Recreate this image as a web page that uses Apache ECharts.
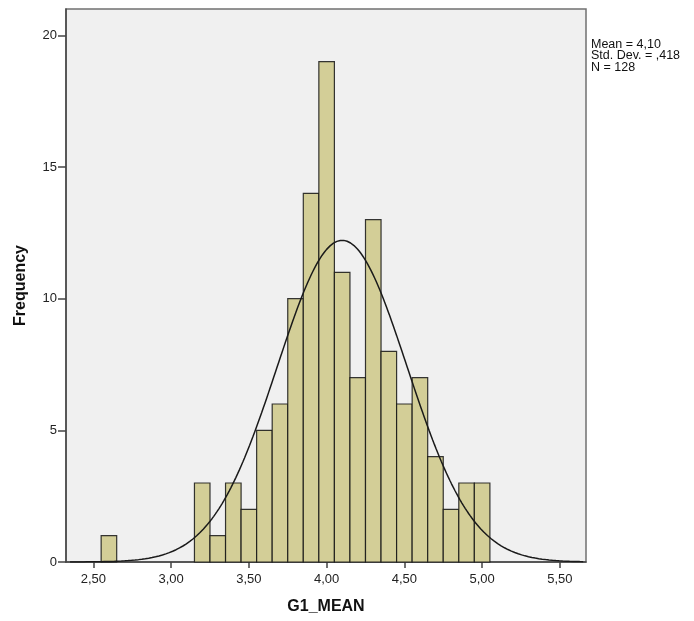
<!DOCTYPE html>
<html>
<head>
<meta charset="utf-8">
<script src="https://cdn.jsdelivr.net/npm/echarts@6/dist/echarts.min.js"></script>
<style>
html,body{margin:0;padding:0;background:#fff;}
#c{width:694px;height:621px;}
</style>
</head>
<body>
<div id="c"></div>
<script>
// Bin centers (bin width 0.1) and frequencies
const binCenters = [2.6, 3.2, 3.3, 3.4, 3.5, 3.6, 3.7, 3.8, 3.9, 4.0, 4.1, 4.2, 4.3, 4.4, 4.5, 4.6, 4.7, 4.8, 4.9, 5.0];
const frequencies = [1, 3, 1, 3, 2, 5, 6, 10, 14, 19, 11, 7, 13, 8, 6, 7, 4, 2, 3, 3];
const binWidth = 0.1;
// Summary statistics shown on the chart
const statMean = 4.10;
const statSD = 0.418;
const statN = 128;
const statLines = ["Mean = 4,10", "Std. Dev. = ,418", "N = 128"];
// Axis ticks
const xTicks = [2.5, 3.0, 3.5, 4.0, 4.5, 5.0, 5.5];
const yTicks = [0, 5, 10, 15, 20];

const fmtX = v => v.toFixed(2).replace('.', ',');

// Normal curve fitted with the stated mean / SD / N (as SPSS draws it)
const curve = [];
for (let i = 0; i <= 300; i++) {
  const x = 2.35 + i * (5.65 - 2.35) / 300;
  const z = (x - statMean) / statSD;
  curve.push([x, statN * binWidth / (statSD * Math.sqrt(2 * Math.PI)) * Math.exp(-0.5 * z * z)]);
}

const chart = echarts.init(document.getElementById('c'), null, {renderer: 'canvas'});
const font = "'Liberation Sans', Arial, sans-serif";

chart.setOption({
  animation: false,
  backgroundColor: '#ffffff',
  grid: {
    left: 66, top: 9, right: 108, bottom: 59,
    show: true, backgroundColor: '#f0f0f0', borderColor: '#707070', borderWidth: 1.5
  },
  xAxis: {
    type: 'value', min: 2.324, max: 5.668,
    name: 'G1_MEAN', nameLocation: 'middle', nameGap: 37,
    nameTextStyle: {fontFamily: font, fontSize: 16, fontWeight: 'bold', color: '#111'},
    axisLine: {show: true, onZero: false, lineStyle: {color: '#444', width: 1.5}},
    axisTick: {show: true, customValues: xTicks, length: 6, lineStyle: {color: '#444', width: 1.5}},
    axisLabel: {customValues: xTicks, formatter: fmtX, fontFamily: font, fontSize: 13, color: '#222', margin: 11},
    splitLine: {show: false}
  },
  yAxis: {
    type: 'value', min: 0, max: 21, interval: 5,
    name: 'Frequency', nameLocation: 'middle', nameGap: 37,
    nameTextStyle: {fontFamily: font, fontSize: 16, fontWeight: 'bold', color: '#111'},
    axisLine: {show: true, lineStyle: {color: '#444', width: 1.5}},
    axisTick: {show: true, customValues: yTicks, length: 8, lineStyle: {color: '#444', width: 1.5}},
    axisLabel: {customValues: yTicks, fontFamily: font, fontSize: 13, color: '#222', margin: 9},
    splitLine: {show: false}
  },
  series: [
    {
      type: 'custom',
      data: binCenters.map((c, i) => [c, frequencies[i]]),
      renderItem: function (params, api) {
        const c = api.value(0), f = api.value(1);
        const p0 = api.coord([c - binWidth / 2, f]);
        const p1 = api.coord([c + binWidth / 2, 0]);
        return {
          type: 'rect',
          shape: {x: p0[0], y: p0[1], width: p1[0] - p0[0], height: p1[1] - p0[1]},
          style: {fill: '#d3ce97', stroke: 'rgba(20,20,20,0.85)', lineWidth: 1.2}
        };
      },
      z: 2
    },
    {
      type: 'line', data: curve, showSymbol: false, symbol: 'none', smooth: false,
      lineStyle: {color: '#1a1a1a', width: 1.5}, z: 3, silent: true
    }
  ],
  graphic: [{
    type: 'text', left: 591, top: 38,
    style: {text: statLines.join('\n'), fontFamily: font, fontSize: 12.5, lineHeight: 11.5, fill: '#111'}
  }]
});
</script>
</body>
</html>
